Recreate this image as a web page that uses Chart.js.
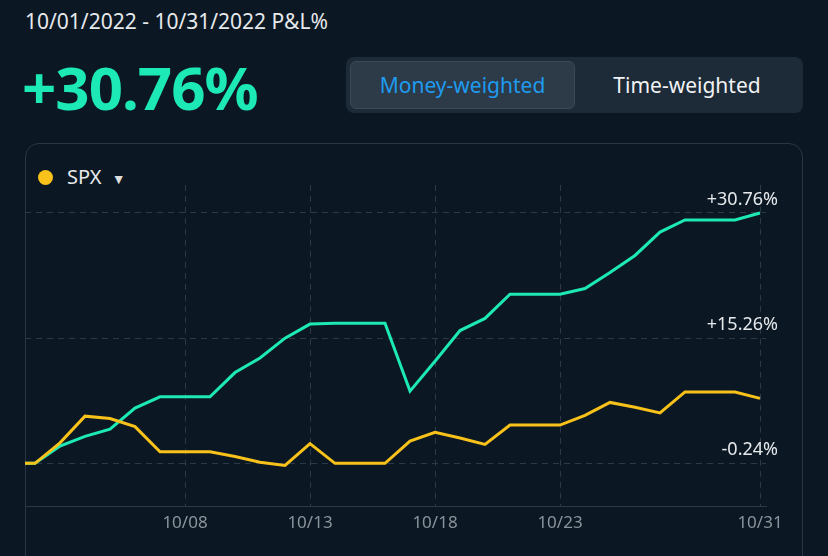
<!DOCTYPE html>
<html><head><meta charset="utf-8">
<script src="https://cdn.jsdelivr.net/npm/chart.js@4"></script>
<style>
body{margin:0;width:828px;height:556px;background:#0b1823;font-family:"Noto Sans",sans-serif;overflow:hidden;position:relative;color:#fff}
#title{position:absolute;left:25px;top:7px;font-size:21px;color:#e6e9ec}
#big{position:absolute;left:22px;top:46px;font-size:60px;font-weight:bold;color:#1de9b6;letter-spacing:-1px}
#tog{position:absolute;left:346px;top:57px;width:457px;height:56px;background:#1d2a37;border-radius:8px}
#sel{position:absolute;left:4px;top:4px;width:225px;height:48px;background:#2d3a47;border-radius:6px;border:1px solid #3b4855;box-sizing:border-box;color:#1e9bf0;font-size:21px;text-align:center;line-height:46px}
#tw{position:absolute;left:229px;top:4px;width:224px;height:48px;color:#f0f2f4;font-size:21px;text-align:center;line-height:48px}
#card{position:absolute;left:25px;top:143px;width:778px;height:430px;border:1px solid #2a3643;border-radius:14px;box-sizing:border-box}
#leg{position:absolute;left:38px;top:163px;font-size:20px;color:#e6e9ec}
#leg .dot{display:inline-block;width:15px;height:15px;border-radius:50%;background:#f9c21a;margin-right:14px;vertical-align:-1px}
#wrap{position:absolute;left:25px;top:162px;width:778px;height:377px}
</style></head><body>
<div id="title">10/01/2022 - 10/31/2022 P&amp;L%</div>
<div id="big">+30.76%</div>
<div id="tog"><div id="sel">Money-weighted</div><div id="tw">Time-weighted</div></div>
<div id="card"></div>
<div id="leg"><span class="dot"></span>SPX &nbsp;<span style="font-size:14px;color:#ddd">▼</span></div>
<div id="wrap"><canvas id="c"></canvas></div>
<script>
const days=[1.6,2,3,4,5,6,7,8,9,10,11,12,13,14,15,16,17,18,19,20,21,22,23,24,25,26,27,28,29,30,31];
const portfolio=[-0.24,-0.24,1.9,3.1,4.0,6.6,8.0,8.0,8.0,11.0,12.8,15.26,17.0,17.1,17.1,17.1,8.7,12.4,16.2,17.7,20.7,20.7,20.7,21.4,23.4,25.5,28.4,29.9,29.9,29.9,30.76];
const spx=[-0.24,-0.24,2.3,5.6,5.3,4.3,1.2,1.2,1.2,0.6,-0.1,-0.5,2.2,-0.24,-0.24,-0.24,2.5,3.6,2.9,2.1,4.5,4.5,4.5,5.7,7.3,6.7,6.0,8.6,8.6,8.6,7.8];
const yTicks=[-0.24,15.26,30.76];
const xTicks=[8,13,18,23,31];
const pts=a=>a.map((v,i)=>({x:days[i],y:v}));
new Chart(document.getElementById('c'),{type:'line',
data:{datasets:[
{data:pts(spx),borderColor:'#f9c21a',borderWidth:3,pointRadius:0,tension:0},
{data:pts(portfolio),borderColor:'#1de9b6',borderWidth:3,pointRadius:0,tension:0}]},
options:{responsive:true,maintainAspectRatio:false,animation:false,
layout:{padding:{right:13,left:0,top:0}},
plugins:{legend:{display:false},tooltip:{enabled:false}},
scales:{
x:{type:'linear',min:1.6,max:31.24,
afterBuildTicks:s=>{s.ticks=xTicks.map(v=>({value:v}))},
ticks:{color:'#8b949c',font:{size:17,family:'Noto Sans'},padding:6,maxRotation:0,callback:v=>'10/'+String(v).padStart(2,'0')},
grid:{color:'#2c3946',tickLength:0,drawTicks:false},border:{color:'#2c3946',dash:[6,5]}},
y:{position:'right',min:-5.6,max:34.25,
afterBuildTicks:s=>{s.ticks=yTicks.map(v=>({value:v}))},
ticks:{mirror:true,color:'#e6e9ec',font:{size:18,family:'Noto Sans'},padding:12,labelOffset:-13,callback:v=>(v>0?'+':'')+v.toFixed(2)+'%'},
grid:{color:'#2c3946',drawTicks:false},border:{display:false,dash:[6,5]}}
}}});
</script></body></html>
